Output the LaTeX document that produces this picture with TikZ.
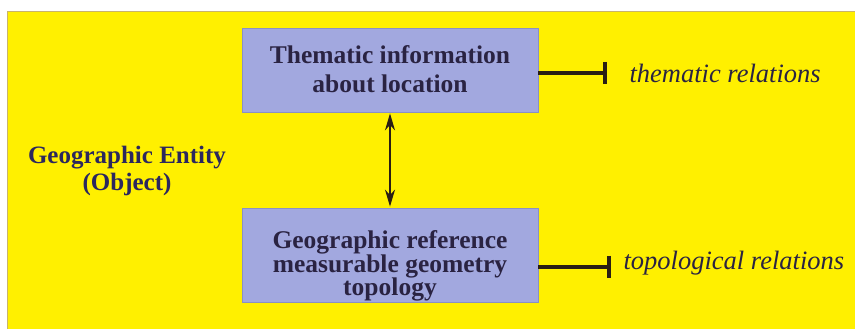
\documentclass[tikz,border=0pt]{standalone}
\usepackage{fontspec}
\setmainfont{Liberation Serif}
\usepackage{xcolor}
\usepackage{tikz}
\usetikzlibrary{arrows.meta,positioning}
\definecolor{bgyellow}{HTML}{FFF000}
\definecolor{bgedge}{HTML}{C9B46A}
\definecolor{lavender}{HTML}{A2A8DF}
\definecolor{lavedge}{HTML}{8A90C4}
\definecolor{inkblue}{HTML}{2A2342}
\definecolor{entityink}{HTML}{2B275E}
\definecolor{linkink}{HTML}{2A1E14}
\tikzset{
  infobox/.style ={draw=lavedge,line width=0.8pt,fill=lavender,
                   minimum width=296pt,inner sep=0pt},
  boxtext/.style ={align=center,text=inkblue,inner sep=0pt},
  entity/.style  ={align=center,text=entityink,inner sep=0pt,
                   font=\fontsize{25}{27}\selectfont\bfseries},
  relation/.style={anchor=west,inner sep=0pt,text=inkblue,
                   font=\fontsize{26.5}{28}\selectfont\itshape},
  tbar/.style    ={-{Bar[width=22pt]},line width=4.5pt,draw=linkink},
  link/.style    ={{Stealth[length=17pt,width=10pt]}-{Stealth[length=17pt,width=10pt]},
                   line width=2pt,draw=linkink,shorten <=1pt,shorten >=1pt}
}

\begin{document}
\begin{tikzpicture}[x=1pt,y=1pt]
  % page and yellow panel
  \useasboundingbox (0,0) rectangle (855,329);
  \fill[white] (0,0) rectangle (855,329);
  \draw[fill=bgyellow,draw=bgedge,line width=0.8pt] (7,-2) rectangle (858,318);

  % the two boxes
  \node[infobox,minimum height=84pt] (them) at (390,259) {};
  \node[boxtext,font=\fontsize{25.5}{29}\selectfont\bfseries]
    (themtext) at ([yshift=1pt]them.center) {Thematic information\\about location};
  \node[infobox,minimum height=94pt] (geo) at (390,74) {};
  \node[boxtext,font=\fontsize{25.5}{23.5}\selectfont\bfseries]
    (geotext) at ([yshift=-11pt]geo.center) {Geographic reference\\measurable geometry\\topology};
  \node[entity] (obj) at (127,158) {Geographic Entity\\(Object)};

  % relations
  \coordinate (themstart) at ([yshift=-3pt]them.east);
  \coordinate[right=69pt of themstart] (themend);
  \coordinate (geostart) at ([yshift=-12pt]geo.east);
  \coordinate[right=73pt of geostart] (geoend);
  \node[relation,right=22pt of themend] (threl) {thematic relations};
  \node[relation,right=12pt of geoend,yshift=4pt] (toprel) {topological relations};

  \draw[tbar] (themstart) -- (themend);
  \draw[tbar] (geostart) -- (geoend);
  \draw[link] (them.south) -- (geo.north);
\end{tikzpicture}
\end{document}
